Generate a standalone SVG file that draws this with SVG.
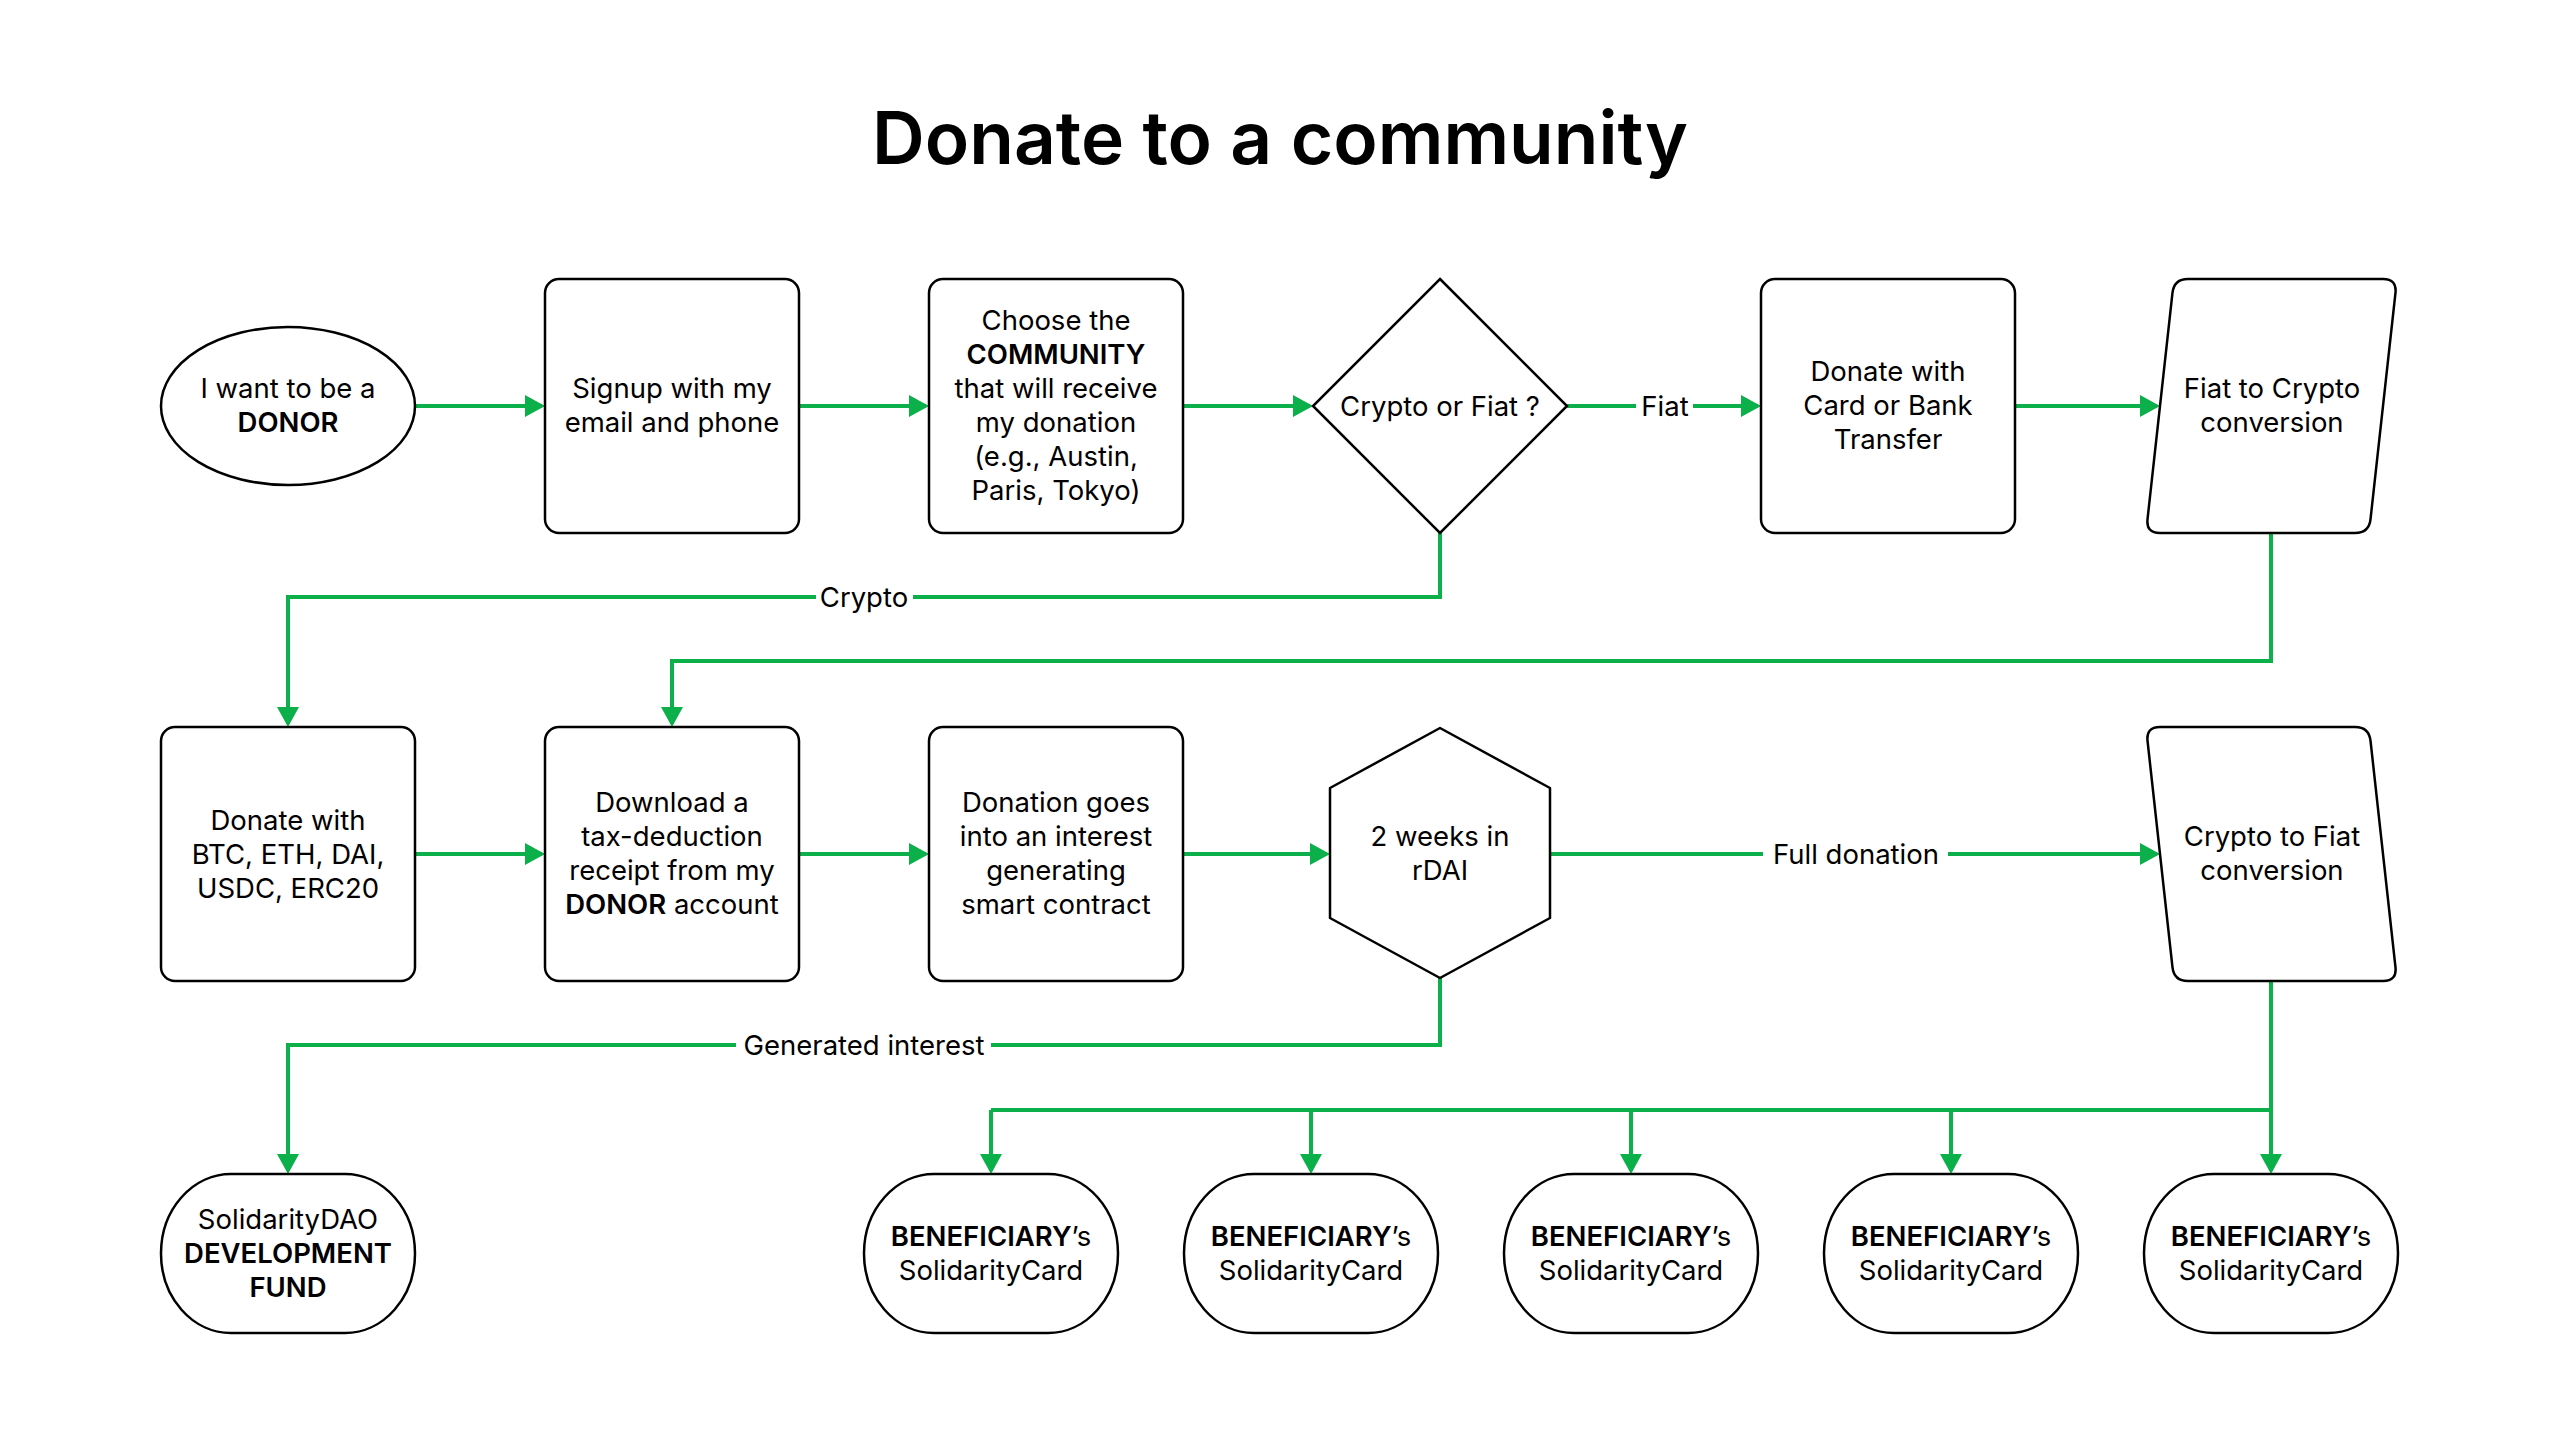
<svg xmlns="http://www.w3.org/2000/svg" width="2560" height="1440" viewBox="0 0 2560 1440">
<style>
.bg{fill:#ffffff}
.nd{fill:#ffffff;stroke:#000000;stroke-width:2.5;stroke-linejoin:round}
.t{font-family:Inter,"Noto Sans","Liberation Sans",sans-serif;font-size:27.5px;fill:#000000;text-anchor:middle}
.b{font-weight:600}
.title{font-family:Inter,"Liberation Sans",sans-serif;font-size:73px;font-weight:600;fill:#000000;text-anchor:middle}
.c{fill:none;stroke:#0BB04A;stroke-width:4}
.ca{fill:none;stroke:#0BB04A;stroke-width:4;marker-end:url(#ah)}
</style>
<defs>
<marker id="ah" viewBox="0 0 20 22" refX="17" refY="11" markerWidth="20" markerHeight="22" markerUnits="userSpaceOnUse" orient="auto">
<path d="M0,0 L20,11 L0,22 Z" fill="#0BB04A"/>
</marker>
</defs>
<rect class="bg" x="0" y="0" width="2560" height="1440"/>
<text class="title" x="1280" y="164">Donate to a community</text>

<g id="connectors">
<path class="ca" d="M415,406 H542"/>
<path class="ca" d="M799,406 H926"/>
<path class="ca" d="M1183,406 H1310"/>
<path class="c" d="M1567,406 H1636"/>
<path class="ca" d="M1693,406 H1758"/>
<text class="t" x="1665" y="416">Fiat</text>
<path class="ca" d="M2015,406 H2157"/>
<path class="c" d="M1440,533 V597 H913"/>
<path class="ca" d="M816,597 H288 V724"/>
<text class="t" x="864" y="607">Crypto</text>
<path class="ca" d="M2271,533 V661 H672 V724"/>
<path class="ca" d="M415,854 H542"/>
<path class="ca" d="M799,854 H926"/>
<path class="ca" d="M1183,854 H1327"/>
<path class="c" d="M1550,854 H1763"/>
<path class="ca" d="M1948,854 H2157"/>
<text class="t" x="1856" y="864">Full donation</text>
<path class="c" d="M1440,978 V1045 H991"/>
<path class="ca" d="M736,1045 H288 V1171"/>
<text class="t" x="864" y="1055">Generated interest</text>
<path class="ca" d="M2271,981 V1171"/>
<path class="c" d="M2271,1110 H991"/>
<path class="ca" d="M991,1110 V1171"/>
<path class="ca" d="M1311,1110 V1171"/>
<path class="ca" d="M1631,1110 V1171"/>
<path class="ca" d="M1951,1110 V1171"/>
</g>

<g id="n-donor">
<ellipse class="nd" cx="288" cy="406" rx="127" ry="79"/>
<text class="t" x="288" y="398">I want to be a</text>
<text class="t b" x="288" y="432">DONOR</text>
</g>
<g id="n-signup">
<rect class="nd" x="545" y="279" width="254" height="254" rx="14"/>
<text class="t" x="672" y="398">Signup with my</text>
<text class="t" x="672" y="432">email and phone</text>
</g>
<g id="n-community">
<rect class="nd" x="929" y="279" width="254" height="254" rx="14"/>
<text class="t" x="1056" y="330">Choose the</text>
<text class="t b" x="1056" y="364">COMMUNITY</text>
<text class="t" x="1056" y="398">that will receive</text>
<text class="t" x="1056" y="432">my donation</text>
<text class="t" x="1056" y="466">(e.g., Austin,</text>
<text class="t" x="1056" y="500">Paris, Tokyo)</text>
</g>
<g id="n-decision">
<polygon class="nd" points="1440,279 1567,406 1440,533 1313,406" style="stroke-linejoin:miter"/>
<text class="t" x="1440" y="416">Crypto or Fiat ?</text>
</g>
<g id="n-card">
<rect class="nd" x="1761" y="279" width="254" height="254" rx="14"/>
<text class="t" x="1888" y="381">Donate with</text>
<text class="t" x="1888" y="415">Card or Bank</text>
<text class="t" x="1888" y="449">Transfer</text>
</g>
<g id="n-fiat2crypto">
<path class="nd" d="M2188,279 L2383,279 Q2397,279 2395.47,292.92 L2370.53,519.08 Q2369,533 2355,533 L2160,533 Q2146,533 2147.53,519.08 L2172.47,292.92 Q2174,279 2188,279 Z"/>
<text class="t" x="2272" y="398">Fiat to Crypto</text>
<text class="t" x="2272" y="432">conversion</text>
</g>
<g id="n-crypto">
<rect class="nd" x="161" y="727" width="254" height="254" rx="14"/>
<text class="t" x="288" y="830">Donate with</text>
<text class="t" x="288" y="864">BTC, ETH, DAI,</text>
<text class="t" x="288" y="898">USDC, ERC20</text>
</g>
<g id="n-receipt">
<rect class="nd" x="545" y="727" width="254" height="254" rx="14"/>
<text class="t" x="672" y="812">Download a</text>
<text class="t" x="672" y="846">tax-deduction</text>
<text class="t" x="672" y="880">receipt from my</text>
<text class="t" x="672" y="914"><tspan class="b">DONOR</tspan> account</text>
</g>
<g id="n-contract">
<rect class="nd" x="929" y="727" width="254" height="254" rx="14"/>
<text class="t" x="1056" y="812">Donation goes</text>
<text class="t" x="1056" y="846">into an interest</text>
<text class="t" x="1056" y="880">generating</text>
<text class="t" x="1056" y="914">smart contract</text>
</g>
<g id="n-rdai">
<polygon class="nd" points="1440,728 1550,788 1550,918 1440,978 1330,918 1330,788"/>
<text class="t" x="1440" y="846">2 weeks in</text>
<text class="t" x="1440" y="880">rDAI</text>
</g>
<g id="n-crypto2fiat">
<path class="nd" d="M2160,727 L2355,727 Q2369,727 2370.53,740.92 L2395.47,967.08 Q2397,981 2383,981 L2188,981 Q2174,981 2172.47,967.08 L2147.53,740.92 Q2146,727 2160,727 Z"/>
<text class="t" x="2272" y="846">Crypto to Fiat</text>
<text class="t" x="2272" y="880">conversion</text>
</g>
<g id="n-devfund">
<rect class="nd" x="161" y="1174" width="254" height="159" rx="70" ry="79.5"/>
<text class="t" x="288" y="1229">SolidarityDAO</text>
<text class="t b" x="288" y="1263">DEVELOPMENT</text>
<text class="t b" x="288" y="1297">FUND</text>
</g>
<g id="n-ben1">
<rect class="nd" x="864" y="1174" width="254" height="159" rx="70" ry="79.5"/>
<text class="t" x="991" y="1246"><tspan class="b">BENEFICIARY</tspan>’s</text>
<text class="t" x="991" y="1280">SolidarityCard</text>
</g>
<g id="n-ben2">
<rect class="nd" x="1184" y="1174" width="254" height="159" rx="70" ry="79.5"/>
<text class="t" x="1311" y="1246"><tspan class="b">BENEFICIARY</tspan>’s</text>
<text class="t" x="1311" y="1280">SolidarityCard</text>
</g>
<g id="n-ben3">
<rect class="nd" x="1504" y="1174" width="254" height="159" rx="70" ry="79.5"/>
<text class="t" x="1631" y="1246"><tspan class="b">BENEFICIARY</tspan>’s</text>
<text class="t" x="1631" y="1280">SolidarityCard</text>
</g>
<g id="n-ben4">
<rect class="nd" x="1824" y="1174" width="254" height="159" rx="70" ry="79.5"/>
<text class="t" x="1951" y="1246"><tspan class="b">BENEFICIARY</tspan>’s</text>
<text class="t" x="1951" y="1280">SolidarityCard</text>
</g>
<g id="n-ben5">
<rect class="nd" x="2144" y="1174" width="254" height="159" rx="70" ry="79.5"/>
<text class="t" x="2271" y="1246"><tspan class="b">BENEFICIARY</tspan>’s</text>
<text class="t" x="2271" y="1280">SolidarityCard</text>
</g>
</svg>
